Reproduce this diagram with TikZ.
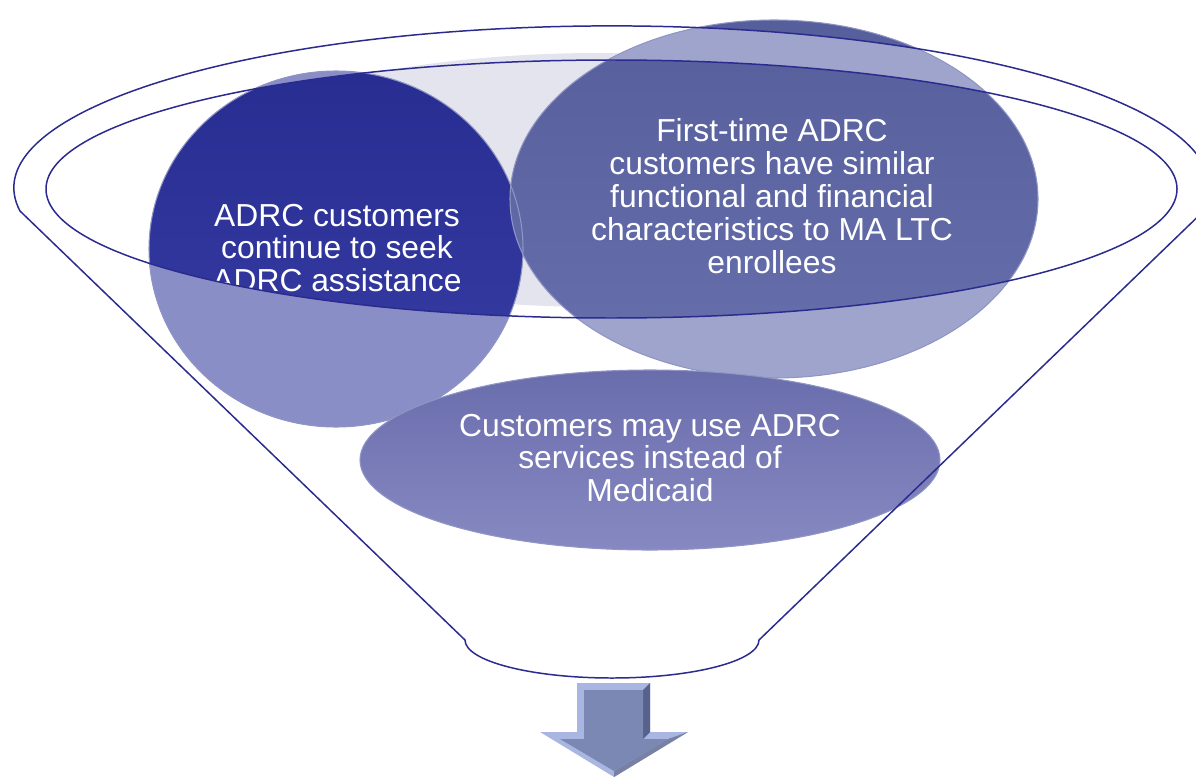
\documentclass[tikz,border=0pt]{standalone}
\usepackage{fontspec}
\setmainfont{Liberation Sans}
\usetikzlibrary{positioning}
\definecolor{rimblue}{HTML}{2B2B8F}
\definecolor{glassgray}{HTML}{E3E4EE}
\definecolor{seektop}{HTML}{282D92}
\definecolor{seekbot}{HTML}{383DA4}
\definecolor{seeklight}{HTML}{8A8EC6}
\definecolor{simtop}{HTML}{565E9C}
\definecolor{simbot}{HTML}{6770AC}
\definecolor{simlight}{HTML}{9EA4CC}
\definecolor{insteadtop}{HTML}{6A6DAC}
\definecolor{insteadbot}{HTML}{8689C1}
\definecolor{bubbleedge}{HTML}{9096C4}
\definecolor{arrowface}{HTML}{7C88B4}
\definecolor{arrowlight}{HTML}{AAB6E2}
\definecolor{arrowdark}{HTML}{56618C}
\tikzset{
  funnelline/.style={draw=rimblue, line width=0.85pt},
  bubbletext/.style={text=white, align=center, font=\fontsize{18.1}{18.7}\selectfont},
  bubbleborder/.style={draw=bubbleedge, line width=0.6pt},
}

\begin{document}
\begin{tikzpicture}[x=0.02cm, y=-0.02cm]
        \useasboundingbox (0,0) rectangle (1196,777);
        \clip (0,0) rectangle (1196,777);
        %glass behind
        \fill[glassgray] (600,180) ellipse [x radius=420, y radius=127];
        %bubbles
        \shade[top color=seektop, bottom color=seekbot] (336,249) ellipse [x radius=187, y radius=178];
        \node[bubbletext] (seek) at (337,248) {ADRC customers\\continue to seek\\ADRC assistance};
        \shade[top color=simtop, bottom color=simbot] (774,199) ellipse [x radius=264, y radius=179];
        \node[bubbletext] (similar) at (772,196) {First-time ADRC\\customers have similar\\functional and financial\\characteristics to MA LTC\\enrollees};
        %funnel wall over the bubbles
        \begin{scope}
          \clip (20,211) arc[start angle=171.8, end angle=368.2, x radius=598, y radius=162]
            -- (759,640) arc[start angle=0, end angle=180, x radius=147, y radius=38] -- cycle;
          \begin{scope}
            \clip (336,249) ellipse [x radius=187, y radius=178];
            \fill[seeklight, even odd rule] (0,0) rectangle (1196,777)
              (611.5,189) ellipse [x radius=565.5, y radius=129];
          \end{scope}
          \begin{scope}
            \clip (774,199) ellipse [x radius=264, y radius=179];
            \fill[simlight, even odd rule] (0,0) rectangle (1196,777)
              (611.5,189) ellipse [x radius=565.5, y radius=129];
          \end{scope}
        \end{scope}
        \path[bubbleborder] (336,249) ellipse [x radius=187, y radius=178];
        \path[bubbleborder] (774,199) ellipse [x radius=264, y radius=179];
        \shade[top color=insteadtop, bottom color=insteadbot, bubbleborder] (650,460) ellipse [x radius=290, y radius=90];
        \node[bubbletext] (instead) at (650,458) {Customers may use ADRC\\services instead of\\Medicaid};
        %funnel
        \path[funnelline] (20,211) arc[start angle=171.8, end angle=368.2, x radius=598, y radius=162]
          -- (759,640) arc[start angle=0, end angle=180, x radius=147, y radius=38] -- cycle;
        \path[funnelline] (611.5,189) ellipse [x radius=565.5, y radius=129];
        %arrow
        \fill[arrowlight] (577,683) -- (650,683) -- (650,732) -- (688,732) -- (614,777) -- (540,732) -- (577,732) -- cycle;
        \fill[arrowdark] (643,690) -- (650,683) -- (650,732) -- (643,739) -- cycle;
        \fill[arrowdark!80] (668,739) -- (688,732) -- (614,777) -- (614,771) -- cycle;
        \fill[arrowface] (584,690) -- (643,690) -- (643,739) -- (668,739) -- (614,771) -- (560,739) -- (584,739) -- cycle;
\end{tikzpicture}
\end{document}
